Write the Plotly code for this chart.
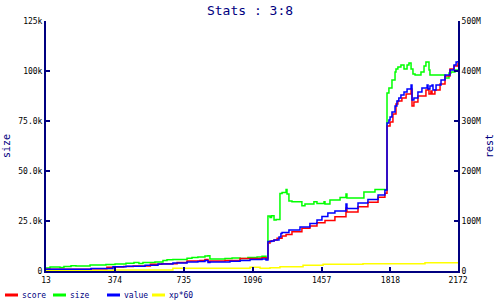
import plotly.graph_objects as go

# ---- data ----
x_ticks = [13, 374, 735, 1096, 1457, 1818, 2172]

size_x = [13, 34, 86, 107, 144, 170, 244, 327, 375, 432, 474, 500, 521, 584, 626, 647, 678,
          752, 778, 809, 846, 862, 872, 951, 988, 1030, 1071, 1119, 1145, 1166, 1176, 1187,
          1195, 1208, 1219, 1239, 1250, 1271, 1276, 1286, 1302, 1354, 1370, 1417, 1433, 1470,
          1475, 1501, 1554, 1585, 1590, 1679, 1737, 1789, 1800, 1810, 1826, 1842, 1847, 1857,
          1873, 1889, 1905, 1915, 1926, 1936, 1947, 1978, 1994, 2004, 2020, 2025, 2104, 2125,
          2135, 2156, 2172]
size_y = [1500, 2000, 1800, 2300, 2600, 2500, 3000, 3300, 3500, 3900, 4300, 3700, 4200, 4500,
          5200, 5600, 5800, 6400, 6700, 7000, 7500, 7600, 6000, 6300, 6500, 6300, 6700, 7000,
          7400, 6500, 27500, 26800, 27600, 25500, 25800, 38800, 39200, 40800, 38500, 35000,
          34600, 32600, 33500, 34600, 33800, 34600, 33500, 35500, 36800, 38500, 36500, 39500,
          40800, 40500, 89000, 91500, 95500, 99500, 101000, 102000, 103000, 101000, 103000,
          104000, 101000, 98500, 98000, 99500, 102500, 104500, 100500, 98000, 96500, 99000,
          99500, 100500, 100500]

value_x = [13, 249, 364, 432, 532, 600, 678, 752, 809, 846, 862, 872, 977, 1030, 1082, 1145,
           1166, 1176, 1195, 1208, 1234, 1244, 1250, 1286, 1302, 1344, 1396, 1433, 1459, 1490,
           1527, 1585, 1590, 1648, 1700, 1753, 1789, 1800, 1810, 1816, 1826, 1842, 1852, 1862,
           1873, 1889, 1905, 1926, 1931, 1941, 1962, 1983, 2010, 2015, 2025, 2036, 2041, 2057,
           2083, 2104, 2130, 2151, 2162, 2172]
value_y = [3.5, 5, 8.5, 9.5, 11.5, 14, 16, 18, 19, 21, 17, 18, 19.5, 21, 23, 24, 22, 59, 60,
           62, 68, 75, 77, 82, 82, 88, 95, 102, 109, 116, 120, 134, 125, 136, 143, 152, 162,
           296, 302, 308, 318, 330, 340, 346, 352, 358, 364, 372, 342, 346, 358, 366, 372, 364,
           370, 372, 362, 372, 382, 392, 402, 412, 418, 420]

score_x = [13, 249, 332, 375, 420, 470, 560, 620, 700, 752, 820, 846, 862, 872, 951, 1030,
           1082, 1145, 1166, 1176, 1187, 1208, 1224, 1250, 1271, 1302, 1354, 1396, 1433, 1475,
           1527, 1585, 1590, 1648, 1700, 1753, 1789, 1800, 1816, 1831, 1847, 1857, 1878, 1900,
           1926, 1931, 1941, 1962, 2004, 2015, 2020, 2030, 2036, 2051, 2078, 2104, 2130, 2151,
           2172]
score_y = [3.5, 4.5, 7.5, 8, 9, 10, 13.5, 14.5, 17, 20, 21, 23, 19, 20, 21, 25, 25, 26.5, 24,
           56, 60, 62, 65.5, 70, 73, 78.5, 85.5, 90, 96.5, 101, 108.5, 126, 118, 128.5, 137.5,
           147.5, 155.5, 290, 298, 314, 334, 340, 346, 354, 364, 330, 338, 350, 362, 364, 354,
           360, 354, 362, 374, 390, 404, 410, 416]

xp_x = [13, 150, 364, 678, 1082, 1135, 1187, 1239, 1360, 1465, 1674, 1999, 2172]
xp_y = [0.5, 1.5, 2, 5.5, 7.5, 5.5, 6.5, 8.5, 11.5, 13.5, 14.5, 16.5, 16.5]

left_ticks = [0, 25000, 50000, 75000, 100000, 125000]
left_labels = ["0", "25.0k", "50.0k", "75.0k", "100k", "125k"]
right_ticks = [0, 100, 200, 300, 400, 500]
right_labels = ["0", "100M", "200M", "300M", "400M", "500M"]

series_names = ["score", "size", "value", "xp*60"]
series_colors = ["#ff0000", "#00ff00", "#0000ff", "#ffff00"]

NAVY = "#000080"
FONT = "DejaVu Sans Mono"

fig = go.Figure()
fig.add_trace(go.Scatter(x=xp_x, y=[v * 1e6 for v in xp_y], name="xp*60", yaxis="y2",
                         mode="lines", line=dict(color=series_colors[3], width=1.5, shape="hv")))
fig.add_trace(go.Scatter(x=score_x, y=[v * 1e6 for v in score_y], name="score", yaxis="y2",
                         mode="lines", line=dict(color=series_colors[0], width=1.5, shape="hv")))
fig.add_trace(go.Scatter(x=size_x, y=size_y, name="size", yaxis="y",
                         mode="lines", line=dict(color=series_colors[1], width=1.5, shape="hv")))
fig.add_trace(go.Scatter(x=value_x, y=[v * 1e6 for v in value_y], name="value", yaxis="y2",
                         mode="lines", line=dict(color=series_colors[2], width=1.5, shape="hv")))

axis_common = dict(showgrid=False, zeroline=False, showline=True, linecolor=NAVY, linewidth=2,
                   ticks="inside", ticklen=4, tickcolor=NAVY, tickwidth=2, automargin=False,
                   tickfont=dict(family=FONT, size=8, color="black"))

fig.update_layout(
    width=500, height=300,
    margin=dict(l=46, r=42, t=21, b=29),
    paper_bgcolor="white", plot_bgcolor="white",
    showlegend=False,
    title=dict(text="Stats : 3:8", x=0.5, xanchor="center", y=0.965, yanchor="middle",
               font=dict(family=FONT, size=13, color=NAVY, weight="normal")),
    xaxis=dict(range=[13, 2172], tickvals=x_ticks, ticktext=[str(t) for t in x_ticks],
               **axis_common),
    yaxis=dict(range=[0, 125000], tickvals=left_ticks, ticktext=left_labels,
               title=dict(text="size", font=dict(family=FONT, size=10, color=NAVY), standoff=6),
               **axis_common),
    yaxis2=dict(range=[0, 500e6], tickvals=[t * 1e6 for t in right_ticks], ticktext=right_labels,
                overlaying="y", side="right",
                title=dict(text="rest", font=dict(family=FONT, size=10, color=NAVY), standoff=6),
                **axis_common),
)

# custom legend below the plot
leg_x = [5, 53, 107, 152]
for i, (nm, col) in enumerate(zip(series_names, series_colors)):
    x0 = (leg_x[i] - 46) / 412
    x1 = (leg_x[i] + 13 - 46) / 412
    yy = (271 - 295) / 250
    fig.add_shape(type="line", xref="paper", yref="paper", x0=x0, x1=x1, y0=yy, y1=yy,
                  line=dict(color=col, width=3))
    fig.add_annotation(xref="paper", yref="paper", x=(leg_x[i] + 15 - 46) / 412, y=yy,
                       text=nm, showarrow=False, xanchor="left", yanchor="middle",
                       font=dict(family=FONT, size=8, color=NAVY))

fig.write_html("out.html")
